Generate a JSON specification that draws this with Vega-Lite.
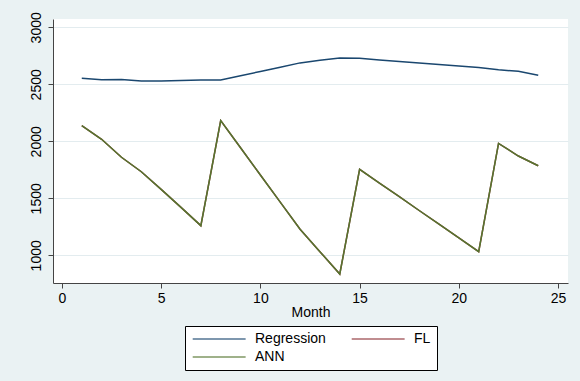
{
  "$schema": "https://vega.github.io/schema/vega-lite/v6.json",
  "width": 515,
  "height": 264,
  "autosize": {"type": "none"},
  "padding": {"left": 53, "top": 19, "right": 12, "bottom": 98},
  "background": "#EAF2F3",
  "config": {
    "view": {"fill": "white", "stroke": null},
    "font": "Liberation Sans"
  },
  "data": {
    "values": [
      {"month": 1, "series": "Regression", "value": 2553},
      {"month": 2, "series": "Regression", "value": 2540},
      {"month": 3, "series": "Regression", "value": 2542},
      {"month": 4, "series": "Regression", "value": 2529},
      {"month": 5, "series": "Regression", "value": 2530},
      {"month": 6, "series": "Regression", "value": 2533},
      {"month": 7, "series": "Regression", "value": 2538},
      {"month": 8, "series": "Regression", "value": 2538},
      {"month": 9, "series": "Regression", "value": 2575},
      {"month": 10, "series": "Regression", "value": 2613},
      {"month": 11, "series": "Regression", "value": 2650},
      {"month": 12, "series": "Regression", "value": 2688},
      {"month": 13, "series": "Regression", "value": 2712},
      {"month": 14, "series": "Regression", "value": 2731},
      {"month": 15, "series": "Regression", "value": 2728},
      {"month": 16, "series": "Regression", "value": 2714},
      {"month": 17, "series": "Regression", "value": 2700},
      {"month": 18, "series": "Regression", "value": 2687},
      {"month": 19, "series": "Regression", "value": 2674},
      {"month": 20, "series": "Regression", "value": 2661},
      {"month": 21, "series": "Regression", "value": 2648},
      {"month": 22, "series": "Regression", "value": 2628},
      {"month": 23, "series": "Regression", "value": 2614},
      {"month": 24, "series": "Regression", "value": 2580},
      {"month": 1, "series": "FL", "value": 2137},
      {"month": 2, "series": "FL", "value": 2018},
      {"month": 3, "series": "FL", "value": 1860},
      {"month": 4, "series": "FL", "value": 1733},
      {"month": 5, "series": "FL", "value": 1578},
      {"month": 6, "series": "FL", "value": 1420},
      {"month": 7, "series": "FL", "value": 1260},
      {"month": 8, "series": "FL", "value": 2181},
      {"month": 9, "series": "FL", "value": 1943},
      {"month": 10, "series": "FL", "value": 1705},
      {"month": 11, "series": "FL", "value": 1466},
      {"month": 12, "series": "FL", "value": 1228},
      {"month": 13, "series": "FL", "value": 1032},
      {"month": 14, "series": "FL", "value": 836},
      {"month": 15, "series": "FL", "value": 1754},
      {"month": 16, "series": "FL", "value": 1634},
      {"month": 17, "series": "FL", "value": 1514},
      {"month": 18, "series": "FL", "value": 1393},
      {"month": 19, "series": "FL", "value": 1273},
      {"month": 20, "series": "FL", "value": 1152},
      {"month": 21, "series": "FL", "value": 1032},
      {"month": 22, "series": "FL", "value": 1982},
      {"month": 23, "series": "FL", "value": 1871},
      {"month": 24, "series": "FL", "value": 1786},
      {"month": 1, "series": "ANN", "value": 2137},
      {"month": 2, "series": "ANN", "value": 2018},
      {"month": 3, "series": "ANN", "value": 1860},
      {"month": 4, "series": "ANN", "value": 1733},
      {"month": 5, "series": "ANN", "value": 1578},
      {"month": 6, "series": "ANN", "value": 1420},
      {"month": 7, "series": "ANN", "value": 1260},
      {"month": 8, "series": "ANN", "value": 2181},
      {"month": 9, "series": "ANN", "value": 1943},
      {"month": 10, "series": "ANN", "value": 1705},
      {"month": 11, "series": "ANN", "value": 1466},
      {"month": 12, "series": "ANN", "value": 1228},
      {"month": 13, "series": "ANN", "value": 1032},
      {"month": 14, "series": "ANN", "value": 836},
      {"month": 15, "series": "ANN", "value": 1754},
      {"month": 16, "series": "ANN", "value": 1634},
      {"month": 17, "series": "ANN", "value": 1514},
      {"month": 18, "series": "ANN", "value": 1393},
      {"month": 19, "series": "ANN", "value": 1273},
      {"month": 20, "series": "ANN", "value": 1152},
      {"month": 21, "series": "ANN", "value": 1032},
      {"month": 22, "series": "ANN", "value": 1982},
      {"month": 23, "series": "ANN", "value": 1871},
      {"month": 24, "series": "ANN", "value": 1786}
    ]
  },
  "encoding": {
    "x": {
      "field": "month",
      "type": "quantitative",
      "title": "Month",
      "scale": {"domain": [-0.45, 25.5], "nice": false, "zero": false},
      "axis": {
        "values": [0, 5, 10, 15, 20, 25],
        "grid": false,
        "domainColor": "#444",
        "tickColor": "#444",
        "tickSize": 5,
        "labelFontSize": 14,
        "labelColor": "#000",
        "labelPadding": 3,
        "titleFontSize": 14,
        "titleFontWeight": "normal",
        "titleColor": "#000",
        "titlePadding": 0
      }
    },
    "y": {
      "field": "value",
      "type": "quantitative",
      "title": null,
      "scale": {"domain": [757, 3073], "nice": false, "zero": false},
      "axis": {
        "values": [1000, 1500, 2000, 2500, 3000],
        "format": "d",
        "grid": true,
        "gridColor": "#E3ECEF",
        "gridWidth": 1,
        "domainColor": "#444",
        "tickColor": "#444",
        "tickSize": 5,
        "labelFontSize": 14,
        "labelColor": "#000",
        "labelAngle": -90,
        "labelAlign": "center",
        "labelBaseline": "bottom",
        "labelPadding": 5
      }
    },
    "color": {
      "field": "series",
      "type": "nominal",
      "sort": ["Regression", "FL", "ANN"],
      "scale": {
        "domain": ["Regression", "FL", "ANN"],
        "range": ["#1a476f", "#90353b", "#55752f"]
      },
      "legend": {
        "title": null,
        "orient": "none",
        "legendX": 132,
        "legendY": 307,
        "direction": "horizontal",
        "columns": 2,
        "symbolType": "M-1,0H9",
        "symbolSize": 112,
        "symbolStrokeWidth": 1.5,
        "symbolOpacity": 0.75,
        "labelFontSize": 14,
        "labelColor": "#000",
        "labelOffset": 50,
        "columnPadding": 22,
        "rowPadding": 4,
        "padding": 6,
        "strokeColor": "#000",
        "fillColor": "white"
      }
    }
  },
  "layer": [
    {
      "transform": [{"filter": "datum.series !== 'ANN'"}],
      "mark": {"type": "line", "strokeWidth": 1.5, "clip": true}
    },
    {
      "transform": [{"filter": "datum.series === 'ANN'"}],
      "mark": {"type": "line", "strokeWidth": 1.5, "clip": true}
    }
  ]
}
